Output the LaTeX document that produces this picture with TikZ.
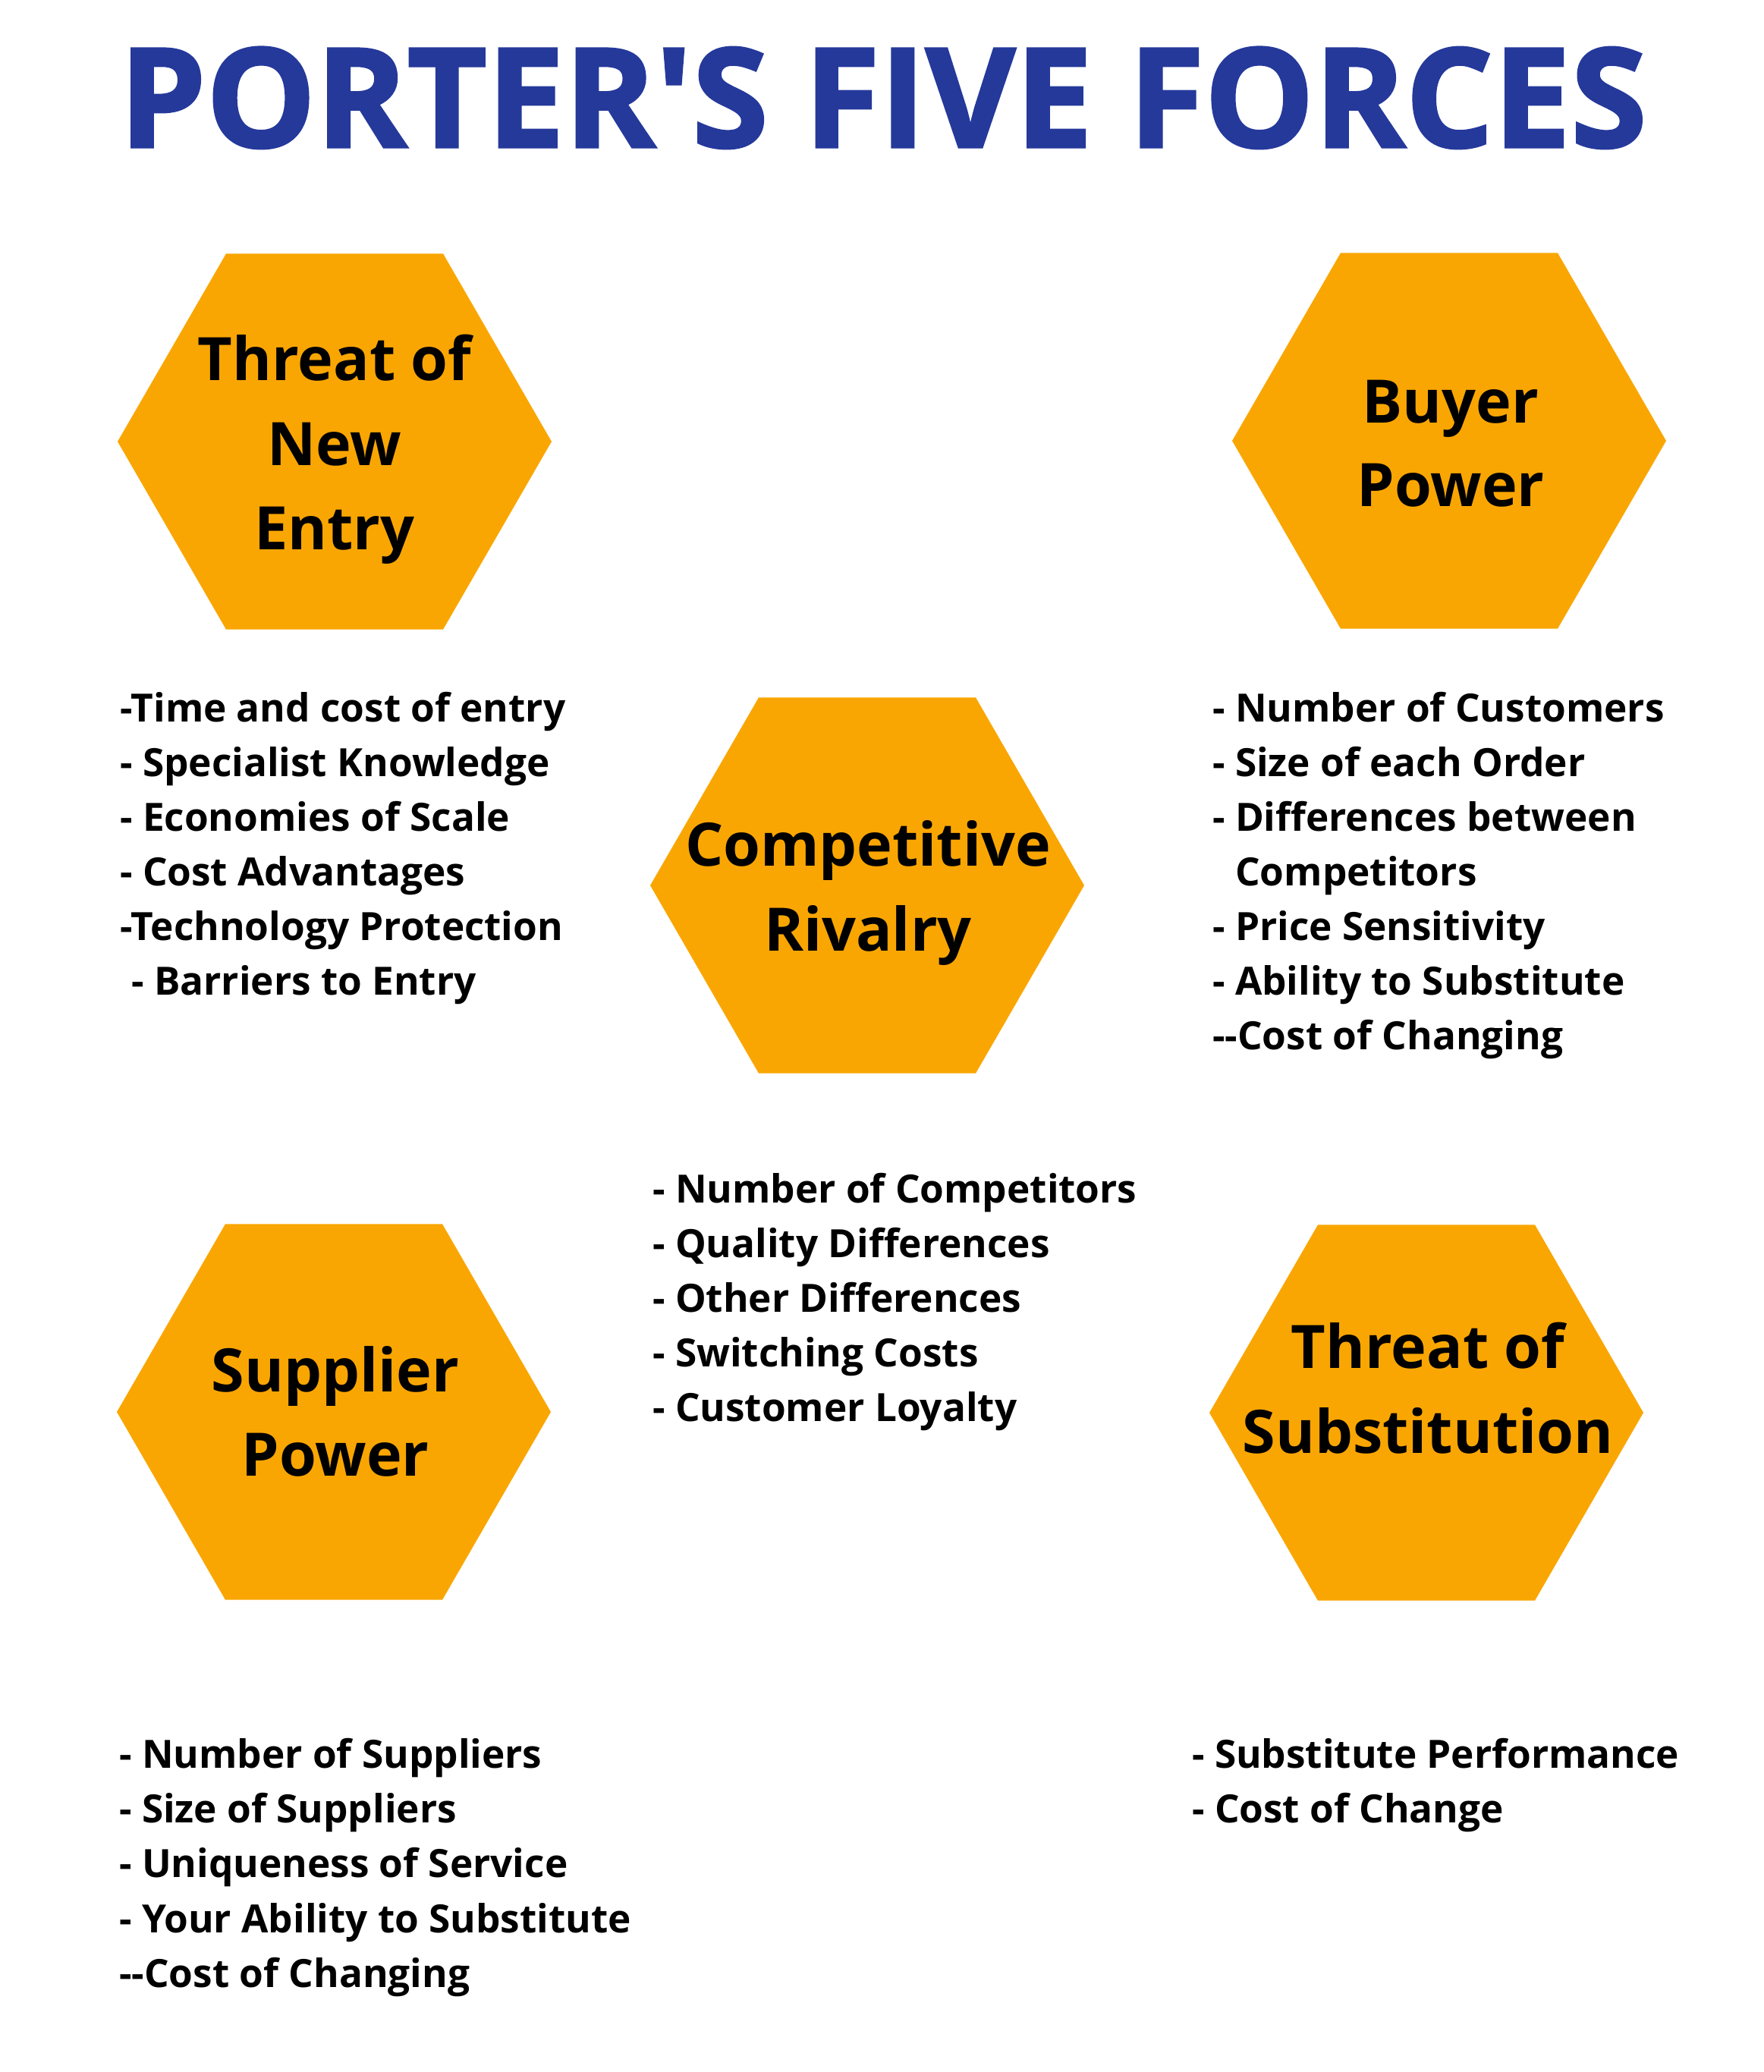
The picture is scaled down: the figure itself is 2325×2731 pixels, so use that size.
\documentclass[tikz,border=0pt]{standalone}
\usepackage{fontspec}
\setmainfont{Open Sans}[BoldFont={* Bold}, Ligatures=TeXOff]
\newfontfamily\titlefont{Open Sans}[UprightFont={* Bold}, Ligatures=TeXOff, FakeBold=1.8]
\usetikzlibrary{shapes.geometric}
\definecolor{hexorange}{RGB}{250,166,2}
\definecolor{titleblue}{RGB}{37,57,155}
\tikzset{
  hexbox/.style={regular polygon, regular polygon sides=6, minimum size=572pt, inner sep=0pt, fill=hexorange, draw=none},
  hexlabel/.style={anchor=base, inner sep=0pt, font=\fontsize{79}{112}\selectfont\bfseries},
  listline/.style={anchor=base west, inner sep=0pt, font=\fontsize{51.3}{72}\selectfont\bfseries},
  titletext/.style={anchor=base, inner sep=0pt, text=titleblue, font=\fontsize{182}{200}\selectfont\titlefont}
}
\begin{document}
\begin{tikzpicture}[x=1pt,y=-1pt]
\useasboundingbox[fill=white] (0,0) rectangle (2325,2731);
% title
\node[titletext] (title) at (1164,194) {PORTER'S FIVE FORCES};
% hexagons
\node[hexbox] (tne) at (441,582) {};
\node[hexbox] (bp) at (1910,581) {};
\node[hexbox] (cr) at (1143,1167) {};
\node[hexbox] (sp) at (440,1861) {};
\node[hexbox] (ts) at (1880,1862) {};
% hexagon labels
\node[hexlabel] (tneA) at (441,501) {Threat of};
\node[hexlabel] (tneB) at (441,613) {New};
\node[hexlabel] (tneC) at (441,724) {Entry};
\node[hexlabel] (bpA) at (1912,557) {Buyer};
\node[hexlabel] (bpB) at (1912,667) {Power};
\node[hexlabel] (crA) at (1144,1141) {Competitive};
\node[hexlabel] (crB) at (1144,1253) {Rivalry};
\node[hexlabel] (spA) at (442,1834) {Supplier};
\node[hexlabel] (spB) at (442,1945) {Power};
\node[hexlabel] (tsA) at (1882,1803) {Threat of};
\node[hexlabel] (tsB) at (1882,1915) {Substitution};
% threat of new entry list
\node[listline] (l1a) at (158,951) {-Time and cost of entry};
\node[listline] (l1b) at (158,1023) {- Specialist Knowledge};
\node[listline] (l1c) at (158,1095) {- Economies of Scale};
\node[listline] (l1d) at (158,1167) {- Cost Advantages};
\node[listline] (l1e) at (158,1239) {-Technology Protection};
\node[listline] (l1f) at (173,1311) {- Barriers to Entry};
% buyer power list
\node[listline] (l2a) at (1598,951) {- Number of Customers};
\node[listline] (l2b) at (1598,1023) {- Size of each Order};
\node[listline] (l2c) at (1598,1095) {- Differences between};
\node[listline] (l2d) at (1628,1167) {Competitors};
\node[listline] (l2e) at (1598,1239) {- Price Sensitivity};
\node[listline] (l2f) at (1598,1311) {- Ability to Substitute};
\node[listline] (l2g) at (1598,1383) {--Cost of Changing};
% competitive rivalry list
\node[listline] (l3a) at (860,1585) {- Number of Competitors};
\node[listline] (l3b) at (860,1657) {- Quality Differences};
\node[listline] (l3c) at (860,1729) {- Other Differences};
\node[listline] (l3d) at (860,1801) {- Switching Costs};
\node[listline] (l3e) at (860,1873) {- Customer Loyalty};
% supplier power list
\node[listline] (l4a) at (157,2330) {- Number of Suppliers};
\node[listline] (l4b) at (157,2402) {- Size of Suppliers};
\node[listline] (l4c) at (157,2474) {- Uniqueness of Service};
\node[listline] (l4d) at (157,2547) {- Your Ability to Substitute};
\node[listline] (l4e) at (157,2619) {--Cost of Changing};
% threat of substitution list
\node[listline] (l5a) at (1571,2330) {- Substitute Performance};
\node[listline] (l5b) at (1571,2402) {- Cost of Change};
\end{tikzpicture}
\end{document}
